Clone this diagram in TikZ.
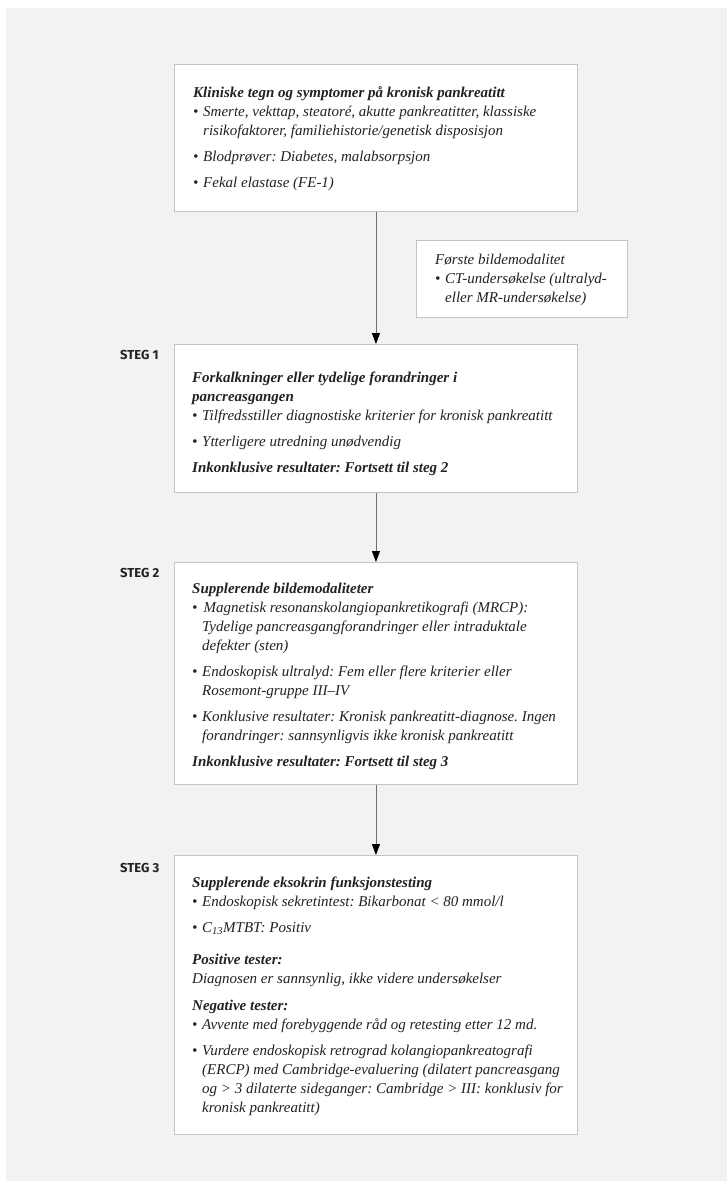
\documentclass[tikz,border=0pt]{standalone}
\usepackage{fontspec}
\setmainfont{Liberation Serif}
\newfontfamily\stegfont{Fira Sans}
\usetikzlibrary{arrows.meta}
\definecolor{panel}{HTML}{F3F2F0}
\definecolor{boxline}{HTML}{C4C4C4}
\definecolor{txt}{HTML}{222222}
\definecolor{arrline}{HTML}{707070}
\newcommand\bl{\makebox[10pt][l]{\textbullet}}
\newcommand\ind{\hspace*{10pt}}
\newcommand\fs{\rule{0pt}{11pt}}
\frenchspacing
\begin{document}
\begin{tikzpicture}[x=1pt,y=-1pt,
  box/.style={draw=boxline, line width=0.9pt, fill=white, anchor=north west, inner sep=0pt},
  txtnode/.style={anchor=north west, inner sep=0pt, align=left, text=txt,
    font=\fontsize{15}{19}\selectfont\itshape\frenchspacing},
  steglabel/.style={anchor=base west, inner sep=0pt, text=txt,
    font=\stegfont\bfseries\fontsize{13}{15}\selectfont},
  arr/.style={draw=arrline, line width=0.9pt, -{Triangle[width=8pt,length=11pt,color=black]}}]
\useasboundingbox (0,0) rectangle (727,1187);
\fill[panel] (6,8) rectangle (727,1181);

% boxes
\node[box, minimum width=403, minimum height=147] (b0) at (174,64) {};
\node[box, minimum width=211, minimum height=77] (ct) at (416,240) {};
\node[box, minimum width=403, minimum height=148] (b1) at (174,344) {};
\node[box, minimum width=403, minimum height=222] (b2) at (174,562) {};
\node[box, minimum width=403, minimum height=279] (b3) at (174,855) {};

% texts
\node[txtnode] (t0) at (193,86) {\fs{\bfseries Kliniske tegn og symptomer på kronisk pankreatitt}\\
\bl Smerte, vekttap, steatoré, akutte pankreatitter, klassiske\\
\ind risikofaktorer, familiehistorie/genetisk disposisjon\\[7pt]
\bl Blodprøver: Diabetes, malabsorpsjon\\[7pt]
\bl Fekal elastase (FE-1)};

\node[txtnode] (tct) at (435,253) {\fs Første bildemodalitet\\
\bl CT-undersøkelse (ultralyd-\\
\ind eller MR-undersøkelse)};

\node[txtnode] (t1) at (192,371) {\fs{\bfseries Forkalkninger eller tydelige forandringer i}\\
{\bfseries pancreasgangen}\\
\bl Tilfredsstiller diagnostiske kriterier for kronisk pankreatitt\\[7pt]
\bl Ytterligere utredning unødvendig\\[7pt]
{\bfseries Inkonklusive resultater: Fortsett til steg 2}};

\node[txtnode] (t2) at (192,582) {\fs{\bfseries Supplerende bildemodaliteter}\\
\bl\hspace{1.5pt}Magnetisk resonanskolangiopankretikografi (MRCP):\\
\ind Tydelige pancreasgangforandringer eller intraduktale\\
\ind defekter (sten)\\[7pt]
\bl Endoskopisk ultralyd: Fem eller flere kriterier eller\\
\ind Rosemont-gruppe III–IV\\[7pt]
\bl Konklusive resultater: Kronisk pankreatitt-diagnose. Ingen\\
\ind forandringer: sannsynligvis ikke kronisk pankreatitt\\[7pt]
{\bfseries Inkonklusive resultater: Fortsett til steg 3}};

\node[txtnode] (t3) at (192,876) {\fs{\bfseries Supplerende eksokrin funksjonstesting}\\
\bl Endoskopisk sekretintest: Bikarbonat < 80 mmol/l\\[7pt]
\bl C\textsubscript{13}MTBT: Positiv\\[13pt]
{\bfseries Positive tester:}\\
Diagnosen er sannsynlig, ikke videre undersøkelser\\[8pt]
{\bfseries Negative tester:}\\
\bl Avvente med forebyggende råd og retesting etter 12 md.\\[7pt]
\bl Vurdere endoskopisk retrograd kolangiopankreatografi\\
\ind (ERCP) med Cambridge-evaluering (dilatert pancreasgang\\
\ind og > 3 dilaterte sideganger: Cambridge > III: konklusiv for\\
\ind kronisk pankreatitt)};

% step labels
\node[steglabel] (s1) at (120,359) {STEG 1};
\node[steglabel] (s2) at (120,577) {STEG 2};
\node[steglabel] (s3) at (120,872) {STEG 3};

% arrows
\draw[arr] (b0.south) -- (b1.north);
\draw[arr] (b1.south) -- (b2.north);
\draw[arr] (b2.south) -- (b3.north);
\end{tikzpicture}
\end{document}
